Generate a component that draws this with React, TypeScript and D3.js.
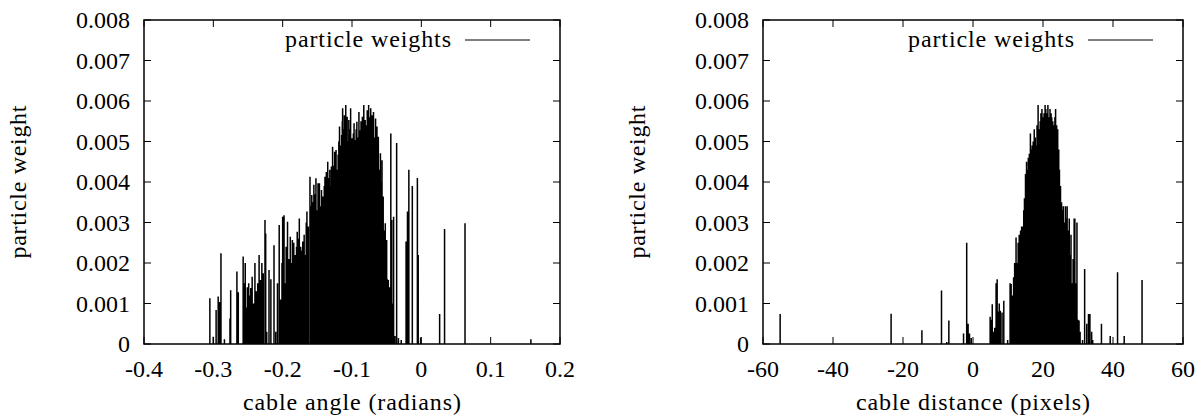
import React from 'react';
import * as d3 from 'd3';

// particle weights vs cable angle (radians)
const angleX = [
  -0.305, -0.300, -0.296, -0.293, -0.291, -0.289, -0.284, -0.276, -0.275, -0.266,
  -0.264, -0.257, -0.256, -0.254, -0.252, -0.251, -0.249, -0.247, -0.246, -0.244,
  -0.242, -0.240, -0.238, -0.236, -0.234, -0.233, -0.232, -0.230, -0.228, -0.2255,
  -0.2245, -0.223, -0.2197, -0.217, -0.2125, -0.210, -0.2075, -0.205, -0.203, -0.201,
  -0.200, -0.198, -0.196, -0.195, -0.193, -0.191, -0.189, -0.187, -0.186, -0.185,
  -0.184, -0.183, -0.182, -0.180, -0.179, -0.177, -0.176, -0.175, -0.174, -0.172,
  -0.171, -0.169, -0.167, -0.166, -0.165, -0.163, -0.1606, -0.159, -0.158, -0.156,
  -0.155, -0.153, -0.152, -0.150, -0.149, -0.148, -0.147, -0.145, -0.144, -0.143,
  -0.142, -0.140, -0.139, -0.138, -0.137, -0.136, -0.135, -0.133, -0.132, -0.131,
  -0.1297, -0.129, -0.128, -0.126, -0.125, -0.124, -0.123, -0.121, -0.120, -0.119,
  -0.118, -0.116, -0.115, -0.114, -0.1135, -0.112, -0.111, -0.110, -0.109, -0.108,
  -0.107, -0.106, -0.1046, -0.103, -0.102, -0.101, -0.100, -0.098, -0.097, -0.096,
  -0.095, -0.094, -0.093, -0.091, -0.090, -0.089, -0.088, -0.087, -0.085, -0.084,
  -0.083, -0.082, -0.081, -0.080, -0.078, -0.077, -0.076, -0.075, -0.073, -0.072,
  -0.071, -0.070, -0.069, -0.068, -0.066, -0.065, -0.064, -0.063, -0.062, -0.060,
  -0.059, -0.058, -0.0567, -0.0555, -0.055, -0.053, -0.052, -0.051, -0.050, -0.049,
  -0.0476, -0.046, -0.044, -0.0427, -0.041, -0.040, -0.038, -0.0356, -0.033, -0.029,
  -0.022, -0.020, -0.018, -0.013, -0.0057, -0.0045, -0.001, 0.0264, 0.0335, 0.063,
  0.158,
];
const angleW = [
  0.00113, 0.00018, 0.00084, 0.00117, 0.00104, 0.00224, 0.00012, 0.00063, 0.00133, 0.00179,
  0.00128, 0.00216, 0.00150, 0.00200, 0.00090, 0.00140, 0.00150, 0.00120, 0.00138, 0.00166,
  0.00100, 0.00200, 0.00130, 0.00150, 0.00220, 0.00110, 0.00158, 0.00200, 0.00175, 0.00306,
  0.00273, 0.00030, 0.00183, 0.00160, 0.00244, 0.00030, 0.00150, 0.00294, 0.00110, 0.00200,
  0.00314, 0.00318, 0.00150, 0.00240, 0.00302, 0.00210, 0.00265, 0.00200, 0.00257, 0.00230,
  0.00250, 0.00190, 0.00220, 0.00240, 0.00277, 0.00260, 0.00310, 0.00200, 0.00240, 0.00230,
  0.00253, 0.00270, 0.00220, 0.00300, 0.00327, 0.00290, 0.00413, 0.00340, 0.00368, 0.00350,
  0.00393, 0.00370, 0.00409, 0.00330, 0.00397, 0.00360, 0.00397, 0.00340, 0.00380, 0.00320,
  0.00364, 0.00390, 0.00413, 0.00380, 0.00425, 0.00400, 0.00450, 0.00410, 0.00430, 0.00390,
  0.00438, 0.00420, 0.00487, 0.00440, 0.00475, 0.00450, 0.00479, 0.00430, 0.00467, 0.00500,
  0.00537, 0.00490, 0.00516, 0.00550, 0.00582, 0.00530, 0.00565, 0.00540, 0.00590, 0.00520,
  0.00561, 0.00500, 0.00553, 0.00530, 0.00582, 0.00470, 0.00508, 0.00520, 0.00545, 0.00490,
  0.00504, 0.00530, 0.00549, 0.00510, 0.00573, 0.00500, 0.00528, 0.00550, 0.00561, 0.00540,
  0.00590, 0.00520, 0.00553, 0.00540, 0.00577, 0.00550, 0.00590, 0.00560, 0.00582, 0.00540,
  0.00565, 0.00530, 0.00573, 0.00510, 0.00557, 0.00500, 0.00537, 0.00480, 0.00512, 0.00430,
  0.00471, 0.00400, 0.00454, 0.00330, 0.00364, 0.00280, 0.00298, 0.00200, 0.00257, 0.00160,
  0.00158, 0.00140, 0.00520, 0.00306, 0.00100, 0.00314, 0.00020, 0.00496, 0.00015, 0.00010,
  0.00253, 0.00327, 0.00430, 0.00390, 0.00410, 0.00220, 0.00016, 0.00074, 0.00284, 0.00298,
  0.00012,
];

// particle weights vs cable distance (pixels)
const distX = [
  -55.1, -23.4, -14.6, -9.0, -7.5, -6.9, -2.7, -1.8, -1.4, -1.0,
  -0.5, 4.9, 5.2, 5.5, 5.8, 6.2, 6.6, 6.9, 7.2, 7.5,
  7.8, 8.3, 8.8, 9.9, 10.6, 10.9, 11.2, 11.6, 11.9, 12.3,
  12.6, 12.9, 13.2, 13.6, 13.9, 14.2, 14.5, 14.7, 15.0, 15.3,
  15.6, 15.8, 16.1, 16.4, 16.7, 16.9, 17.2, 17.5, 17.8, 18.0,
  18.3, 18.6, 18.9, 19.2, 19.4, 19.7, 20.0, 20.3, 20.6, 20.8,
  21.1, 21.4, 21.7, 22.0, 22.3, 22.5, 22.8, 23.1, 23.4, 23.6,
  23.9, 24.2, 24.5, 24.7, 25.0, 25.3, 25.6, 25.8, 26.1, 26.4,
  26.7, 26.9, 27.2, 27.5, 27.8, 28.0, 28.3, 28.6, 28.9, 29.1,
  29.4, 29.7, 30.0, 30.3, 30.6, 31.3, 31.9, 32.5, 33.0, 33.4,
  33.9, 34.2, 36.7, 39.2, 41.3, 43.2, 48.3,
];
const distW = [
  0.00074, 0.00075, 0.00034, 0.00132, 0.00005, 0.00058, 0.00026, 0.00250, 0.00050, 0.00026,
  0.00015, 0.00067, 0.00060, 0.00098, 0.00030, 0.00040, 0.00150, 0.00160, 0.00080, 0.00100,
  0.00082, 0.00078, 0.00107, 0.00010, 0.00150, 0.00148, 0.00120, 0.00165, 0.00200, 0.00263,
  0.00200, 0.00250, 0.00270, 0.00280, 0.00290, 0.00290, 0.00330, 0.00360, 0.00420, 0.00450,
  0.00430, 0.00460, 0.00470, 0.00520, 0.00480, 0.00490, 0.00500, 0.00530, 0.00510, 0.00490,
  0.00540, 0.00590, 0.00530, 0.00550, 0.00570, 0.00580, 0.00560, 0.00570, 0.00590, 0.00580,
  0.00570, 0.00590, 0.00560, 0.00580, 0.00570, 0.00560, 0.00550, 0.00540, 0.00560, 0.00580,
  0.00540, 0.00530, 0.00480, 0.00430, 0.00390, 0.00350, 0.00330, 0.00340, 0.00300, 0.00340,
  0.00310, 0.00340, 0.00280, 0.00310, 0.00220, 0.00270, 0.00150, 0.00210, 0.00310, 0.00310,
  0.00150, 0.00300, 0.00060, 0.00058, 0.00030, 0.00010, 0.00185, 0.00050, 0.00074, 0.00074,
  0.00030, 0.00010, 0.00050, 0.00020, 0.00177, 0.00020, 0.00158,
];

const yTicks = [0, 0.001, 0.002, 0.003, 0.004, 0.005, 0.006, 0.007, 0.008];
const yTickLabels = ['0', '0.001', '0.002', '0.003', '0.004', '0.005', '0.006', '0.007', '0.008'];
const angleTicks = [-0.4, -0.3, -0.2, -0.1, 0, 0.1, 0.2];
const angleTickLabels = ['-0.4', '-0.3', '-0.2', '-0.1', '0', '0.1', '0.2'];
const distTicks = [-60, -40, -20, 0, 20, 40, 60];
const distTickLabels = ['-60', '-40', '-20', '0', '20', '40', '60'];

const FONT = 'Liberation Serif';
const FS = 24;
const TOP = 20;
const BOTTOM = 344;
const TICK = 7;

type PanelProps = {
  left: number;
  right: number;
  domain: [number, number];
  ticks: number[];
  tickLabels: string[];
  xs: number[];
  ws: number[];
  xlabel: string;
  xlabelLen: number;
};

function Panel({ left, right, domain, ticks, tickLabels, xs, ws, xlabel, xlabelLen }: PanelProps) {
  const x = d3.scaleLinear().domain(domain).range([left, right]);
  const y = d3.scaleLinear().domain([0, 0.008]).range([BOTTOM, TOP]);

  // impulses
  const path = d3.path();
  xs.forEach((v, i) => {
    path.moveTo(x(v), y(0));
    path.lineTo(x(v), y(ws[i]));
  });

  const midX = (left + right) / 2;

  return (
    <g>
      <path d={path.toString()} stroke="#000" strokeWidth={1.5} fill="none" />

      {/* y ticks on both sides */}
      {yTicks.map((t, i) => (
        <g key={'y' + i}>
          <line x1={left} x2={left + TICK} y1={y(t)} y2={y(t)} stroke="#000" strokeWidth={1} />
          <line x1={right} x2={right - TICK} y1={y(t)} y2={y(t)} stroke="#000" strokeWidth={1} />
          <text x={left - 14} y={y(t) + 8} textAnchor="end" fontFamily={FONT} fontSize={FS}>
            {yTickLabels[i]}
          </text>
        </g>
      ))}

      {/* x ticks on both sides */}
      {ticks.map((t, i) => (
        <g key={'x' + i}>
          <line x1={x(t)} x2={x(t)} y1={BOTTOM} y2={BOTTOM - TICK} stroke="#000" strokeWidth={1} />
          <line x1={x(t)} x2={x(t)} y1={TOP} y2={TOP + TICK} stroke="#000" strokeWidth={1} />
          <text x={x(t)} y={377} textAnchor="middle" fontFamily={FONT} fontSize={FS}>
            {tickLabels[i]}
          </text>
        </g>
      ))}

      <rect x={left} y={TOP} width={right - left} height={BOTTOM - TOP}
        fill="none" stroke="#000" strokeWidth={1.5} />

      {/* legend */}
      <text x={right - 109} y={47} textAnchor="end" fontFamily={FONT} fontSize={FS}
        textLength={166} lengthAdjust="spacing">
        particle weights
      </text>
      <line x1={right - 95} x2={right - 30} y1={40} y2={40} stroke="#000" strokeWidth={1} />

      <text x={midX} y={410} textAnchor="middle" fontFamily={FONT} fontSize={FS}
        textLength={xlabelLen} lengthAdjust="spacing">
        {xlabel}
      </text>
      <text transform={`translate(${left - 118},${(TOP + BOTTOM) / 2}) rotate(-90)`}
        textAnchor="middle" fontFamily={FONT} fontSize={FS} textLength={153} lengthAdjust="spacing">
        particle weight
      </text>
    </g>
  );
}

export default function App() {
  return (
    <svg width={1202} height={419} style={{ position: 'absolute', left: 0, top: 0, background: '#fff' }}>
      <rect width={1202} height={419} fill="#fff" />
      <Panel left={144} right={560} domain={[-0.4, 0.2]} ticks={angleTicks}
        tickLabels={angleTickLabels} xs={angleX} ws={angleW}
        xlabel="cable angle (radians)" xlabelLen={218} />
      <Panel left={763} right={1183} domain={[-60, 60]} ticks={distTicks}
        tickLabels={distTickLabels} xs={distX} ws={distW}
        xlabel="cable distance (pixels)" xlabelLen={234} />
    </svg>
  );
}
